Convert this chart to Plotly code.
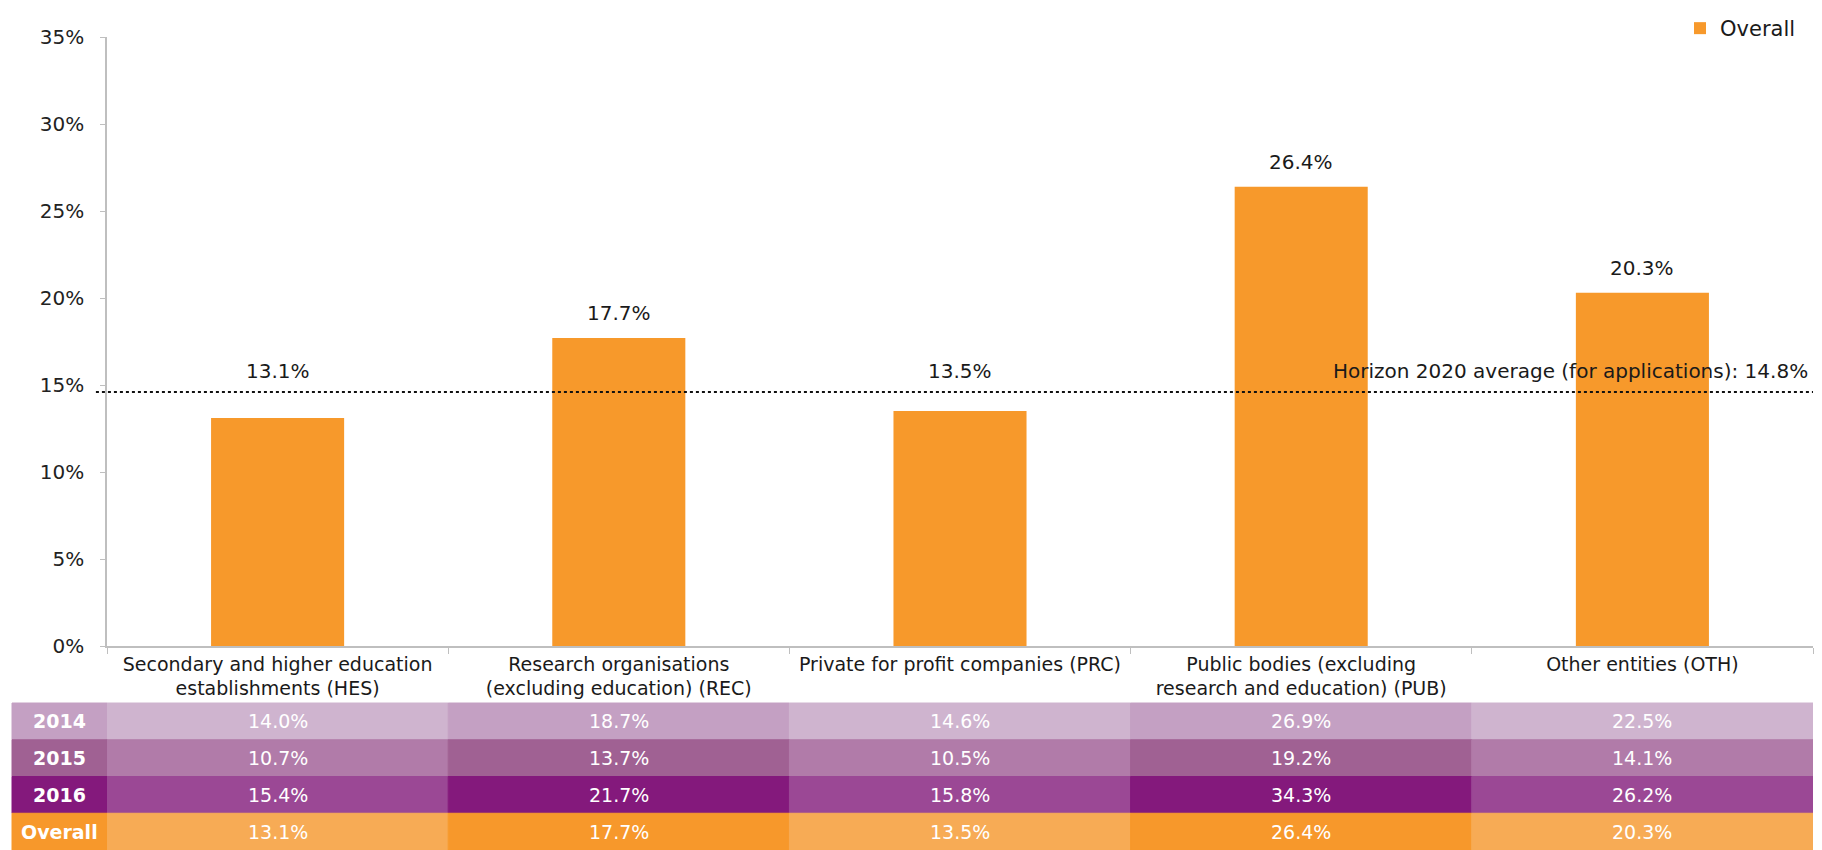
import plotly.graph_objects as go

categories = [
    "Secondary and higher education<br>establishments (HES)",
    "Research organisations<br>(excluding education) (REC)",
    "Private for profit companies (PRC)",
    "Public bodies (excluding<br>research and education) (PUB)",
    "Other entities (OTH)",
]
overall = [13.1, 17.7, 13.5, 26.4, 20.3]
y2014 = [14.0, 18.7, 14.6, 26.9, 22.5]
y2015 = [10.7, 13.7, 10.5, 19.2, 14.1]
y2016 = [15.4, 21.7, 15.8, 34.3, 26.2]
row_labels = ["2014", "2015", "2016", "Overall"]
avg_label = "Horizon 2020 average (for applications): 14.8%"
avg_line = 14.6
y_ticks = [0, 5, 10, 15, 20, 25, 30, 35]

# page is rendered with the browser's default 8px body margin
SCREEN_W, SCREEN_H = 1822, 850
OFF = 8
W, H = SCREEN_W - OFF, SCREEN_H - OFF


def px(x):
    return (x - OFF) / W


def py(y):
    return 1 - (y - OFF) / H


ORANGE = "#f7992b"
FONT = "DejaVu Sans"
TXT = "#1a1a1a"

fig = go.Figure()
fig.add_trace(go.Bar(
    x=categories, y=overall, name="Overall",
    marker=dict(color=ORANGE, line=dict(width=0)),
    showlegend=True,
))

for c, v in zip(categories, overall):
    if v < avg_line:
        # label lifted above the average line, level with its caption
        fig.add_annotation(x=c, y=avg_line, text=f"{v:.1f}%", showarrow=False,
                           yanchor="middle", yshift=21,
                           font=dict(family=FONT, size=20, color=TXT))
    else:
        fig.add_annotation(x=c, y=v, text=f"{v:.1f}%", showarrow=False,
                           yanchor="middle", yshift=25,
                           font=dict(family=FONT, size=20, color=TXT))

fig.add_shape(type="line", xref="x domain", yref="y", x0=-0.0065, x1=1,
              y0=avg_line, y1=avg_line,
              line=dict(color="#111111", width=2, dash="dot"))
fig.add_annotation(xref="x domain", yref="y", x=0.9985, y=avg_line,
                   text=avg_label, showarrow=False, xanchor="right",
                   yanchor="middle", yshift=21,
                   font=dict(family=FONT, size=20, color=TXT))

# ---- table below the chart (drawn on the category axis) ----
light = ["#cfb4cf", "#b17ba9", "#9b4895", "#f7ab55"]
dark = ["#c4a0c3", "#a06193", "#84197c", "#f7982b"]
rows = [y2014, y2015, y2016, overall]

tab_top, tab_bot = 703, 850
row_h = (tab_bot - tab_top) / len(rows)
head_x0, head_x1 = px(12), px(107)

for i, (lab, vals) in enumerate(zip(row_labels, rows)):
    yt = py(tab_top + i * row_h)
    yb = py(tab_top + (i + 1) * row_h)
    ym = (yt + yb) / 2
    fig.add_shape(type="rect", xref="paper", yref="paper",
                  x0=head_x0, x1=head_x1, y0=yb, y1=yt,
                  fillcolor=dark[i], line=dict(width=1, color=dark[i]),
                  layer="above")
    fig.add_annotation(xref="paper", yref="paper",
                       x=(head_x0 + head_x1) / 2, y=ym,
                       text=f"<b>{lab}</b>", showarrow=False,
                       xanchor="center", yanchor="middle",
                       font=dict(family=FONT, size=19, color="white"))
    for j, (c, v) in enumerate(zip(categories, vals)):
        shade = light if j % 2 == 0 else dark
        fig.add_shape(type="rect", xref="x", yref="paper",
                      x0=j - 0.5, x1=j + 0.5, y0=yb, y1=yt,
                      fillcolor=shade[i], line=dict(width=1, color=shade[i]),
                      layer="above")
        fig.add_annotation(xref="x", yref="paper", x=c, y=ym,
                           text=f"{v:.1f}%", showarrow=False,
                           xanchor="center", yanchor="middle",
                           font=dict(family=FONT, size=19, color="white"))

fig.update_layout(
    width=W, height=H,
    margin=dict(l=0, r=0, t=0, b=0),
    plot_bgcolor="white", paper_bgcolor="white",
    bargap=0.61,
    font=dict(family=FONT, size=19, color=TXT),
    legend=dict(orientation="h", x=px(1801), xanchor="right", y=1.0,
                yanchor="top", font=dict(family=FONT, size=21, color=TXT),
                bgcolor="rgba(0,0,0,0)"),
    xaxis=dict(domain=[px(107), px(1813)], range=[-0.5, 4.5], automargin=False,
               showline=True, linecolor="#bfbfbf",
               linewidth=1.5, ticks="outside", tickson="boundaries",
               ticklen=6, tickcolor="#bfbfbf", showgrid=False,
               tickfont=dict(family=FONT, size=19, color=TXT)),
    yaxis=dict(domain=[py(646), py(37)], range=[0, 35], tickvals=y_ticks,
               automargin=False, ticklabelstandoff=12,
               ticktext=[f"{t}%" for t in y_ticks], showline=True,
               linecolor="#bfbfbf", linewidth=1.5, ticks="outside",
               ticklen=5, tickcolor="#bfbfbf", showgrid=False,
               zeroline=False,
               tickfont=dict(family=FONT, size=20, color="#222222")),
)

fig.write_html("out.html")
